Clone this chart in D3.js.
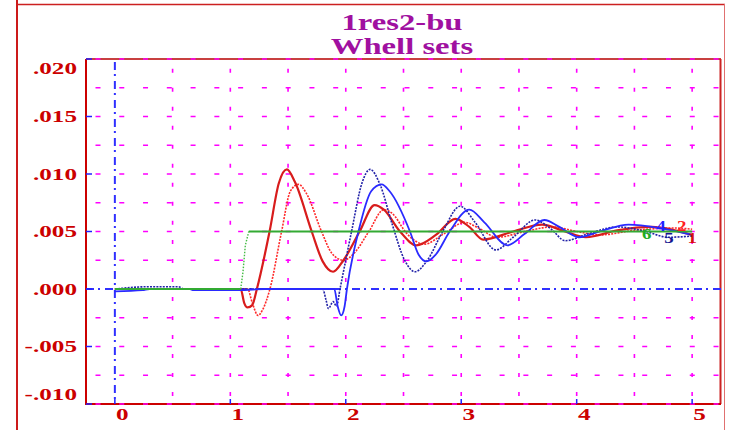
<!DOCTYPE html>
<html>
<head>
<meta charset="utf-8">
<script src="https://cdn.jsdelivr.net/npm/d3@7"></script>
<style>
  html, body { margin: 0; padding: 0; background: #ffffff; }
  svg { display: block; }
  text { font-family: "Liberation Serif", "Times New Roman", serif; font-weight: bold; }
</style>
</head>
<body>
<svg id="chart" width="729" height="430"></svg>
<script>
// ---------------- data ----------------
const titleLines = ["1res2-bu", "Whell sets"];
const xTicks = [0, 1, 2, 3, 4, 5];
const xTickLabels = ["0", "1", "2", "3", "4", "5"];
const yTicks = [-0.010, -0.005, 0, 0.005, 0.010, 0.015, 0.020];
const yTickLabels = ["-.010", "-.005", ".000", ".005", ".010", ".015", ".020"];
const xGrid = [0.5, 1, 1.5, 2, 2.5, 3, 3.5, 4, 4.5, 5];
const yGrid = [-0.010, -0.0075, -0.005, -0.0025, 0.0025, 0.005, 0.0075, 0.010, 0.0125, 0.015, 0.0175, 0.020];

// series 1: red solid
const s1 = [[0,0],[1.09,0],[1.12,-0.0012],[1.15,-0.0016],[1.19,-0.0014],[1.23,0],[1.34,0.005],[1.42,0.0092],[1.49,0.0104],
  [1.56,0.0093],[1.705,0.005],[1.80,0.0024],[1.89,0.0015],[1.98,0.0025],[2.12,0.005],[2.25,0.0073],[2.33,0.0069],[2.47,0.005],
  [2.61,0.0038],[2.78,0.0047],[2.95,0.0061],[3.07,0.0054],[3.19,0.0043],[3.45,0.0050],[3.70,0.0056],[3.90,0.0050],[4.08,0.0045],
  [4.35,0.0051],[4.65,0.0054],[5.0,0.0047]];
// series 2: red dotted
const s2 = [[0,0],[1.15,0],[1.19,-0.0012],[1.24,-0.0023],[1.28,-0.0018],[1.343,0],[1.444,0.005],[1.52,0.0085],[1.59,0.0091],
  [1.66,0.0083],[1.79,0.005],[1.88,0.0031],[1.98,0.0025],[2.08,0.0032],[2.20,0.005],[2.33,0.0069],[2.40,0.0066],[2.53,0.0048],
  [2.68,0.0039],[2.85,0.0048],[3.03,0.0058],[3.15,0.0053],[3.31,0.0045],[3.55,0.0050],[3.79,0.0054],[4.0,0.0050],[4.2,0.0047],
  [4.5,0.0051],[4.85,0.0053],[5.0,0.0052]];
// series 5: dark blue dotted
const s5 = [[0,0],[0.3,0.0002],[0.55,0.0002],[0.6,0],[1.80,0],[1.83,-0.0010],[1.85,-0.0017],[1.89,-0.0011],[1.92,-0.0015],
  [1.95,0],[2.05,0.005],[2.14,0.0092],[2.21,0.0104],[2.30,0.0090],[2.40,0.0057],[2.51,0.0025],[2.60,0.0015],[2.70,0.0024],
  [2.84,0.005],[2.99,0.0072],[3.12,0.0058],[3.30,0.0034],[3.45,0.0045],[3.64,0.0060],[3.78,0.0052],[3.90,0.0042],[4.1,0.0048],
  [4.35,0.0054],[4.6,0.0050],[4.79,0.0045],[5.0,0.0046]];
// series 4: blue solid
const s4 = [[0,-0.0002],[0.24,-0.0001],[0.3,0],[0.65,0],[0.68,-0.0001],[1.08,-0.0001],[1.3,0],[1.90,0],[1.93,-0.0015],
  [1.96,-0.0023],[1.99,-0.0015],[2.01,0],[2.11,0.005],[2.22,0.0085],[2.31,0.0091],[2.38,0.0085],[2.556,0.005],[2.63,0.0030],
  [2.70,0.0024],[2.78,0.0030],[2.90,0.005],[3.07,0.0069],[3.20,0.0058],[3.40,0.0038],[3.55,0.0048],[3.72,0.0060],[3.85,0.0054],
  [4.02,0.0045],[4.2,0.0050],[4.45,0.0056],[4.72,0.0053],[5.0,0.0047]];
// series 6: green step
const s6 = [[0,0],[1.09,0],[1.11,0.0015],[1.13,0.0038],[1.16,0.005],[5.0,0.005]];
const s6Rise = [1.09, 1.16];

const endLabels = ["6", "4", "5", "2", "1"];
const endLabelX = [4.606, 4.73, 4.80, 4.91, 5.0];
const endLabelY = [0.0048, 0.0055, 0.0044, 0.0055, 0.0044];
const endLabelColor = ["#22aa22", "#2020ff", "#151590", "#ff2020", "#d81010"];

// ---------------- layout ----------------
const svg = d3.select("#chart");
const L = 86, R = 721, T = 59, B = 404;
const x = d3.scaleLinear().domain([-0.25, 5.25]).range([L, R]);
const y = d3.scaleLinear().domain([-0.010, 0.020]).range([B, T]);
const STRETCH = 1.48;

// outer frame
svg.append("line").attr("x1", 17).attr("x2", 17).attr("y1", 0).attr("y2", 430).attr("stroke", "#cc1a1a").attr("stroke-width", 2);
svg.append("line").attr("x1", 17).attr("x2", 725).attr("y1", 4.5).attr("y2", 4.5).attr("stroke", "#cc2020").attr("stroke-width", 1.5);
svg.append("line").attr("x1", 724.5).attr("x2", 724.5).attr("y1", 4).attr("y2", 430).attr("stroke", "#e07070").attr("stroke-width", 1);

// title
titleLines.forEach((t, i) => {
  svg.append("text").attr("transform", `translate(402,${30 + i * 24}) scale(1.42,1)`)
    .attr("text-anchor", "middle").attr("font-size", 23).attr("fill", "#a010a0").text(t);
});

// inner frame
svg.append("line").attr("x1", L).attr("x2", R).attr("y1", T).attr("y2", T).attr("stroke", "#c84040").attr("stroke-width", 2);
svg.append("line").attr("x1", 720.5).attr("x2", 720.5).attr("y1", T).attr("y2", B).attr("stroke", "#cc2222").attr("stroke-width", 2);
svg.append("line").attr("x1", L).attr("x2", L).attr("y1", T).attr("y2", B + 1).attr("stroke", "#cc0000").attr("stroke-width", 2);
svg.append("line").attr("x1", L).attr("x2", R).attr("y1", B).attr("y2", B).attr("stroke", "#cc0000").attr("stroke-width", 2);

// grid
const grid = svg.append("g").attr("stroke", "#ff00ff").attr("stroke-width", 1.6);
grid.selectAll(".hg").data(yGrid).join("line")
  .attr("x1", 95.5).attr("x2", R).attr("y1", d => y(d)).attr("y2", d => y(d))
  .attr("stroke-dasharray", "5,18.77");
grid.selectAll(".vg").data(xGrid).join("line")
  .attr("x1", d => x(d)).attr("x2", d => x(d)).attr("y1", 68.7).attr("y2", B)
  .attr("stroke-dasharray", "4,15.02");

// zero axes (dash-dot)
svg.append("line").attr("x1", L).attr("x2", R).attr("y1", y(0)).attr("y2", y(0))
  .attr("stroke", "#3030ff").attr("stroke-width", 2).attr("stroke-dasharray", "8,4,2,5");
svg.append("line").attr("x1", x(0)).attr("x2", x(0)).attr("y1", T + 3).attr("y2", B)
  .attr("stroke", "#3030ff").attr("stroke-width", 2).attr("stroke-dasharray", "8,4,2,5");

// ticks
svg.selectAll(".yt").data(yTicks).join("line")
  .attr("x1", L).attr("x2", L + 6).attr("y1", d => y(d)).attr("y2", d => y(d))
  .attr("stroke", "#2020ff").attr("stroke-width", 1.5);
svg.selectAll(".xt").data(xTicks).join("line")
  .attr("x1", d => x(d)).attr("x2", d => x(d)).attr("y1", B).attr("y2", B - 5)
  .attr("stroke", "#2020ff").attr("stroke-width", 1.5);

// tick labels
yTicks.forEach((v, i) => {
  const cy = Math.max(T + 9.3, Math.min(B - 9.3, y(v)));
  svg.append("text").attr("transform", `translate(77,${cy + 5.7}) scale(${STRETCH},1)`)
    .attr("text-anchor", "end").attr("font-size", 17).attr("fill", "#cc0000").text(yTickLabels[i]);
});
xTicks.forEach((v, i) => {
  svg.append("text").attr("transform", `translate(${x(v) + 7.5},419.5) scale(${STRETCH},1)`)
    .attr("text-anchor", "middle").attr("font-size", 17).attr("fill", "#cc0000").text(xTickLabels[i]);
});

// curves
const lineM = d3.line().x(d => x(d[0])).y(d => y(d[1])).curve(d3.curveMonotoneX);
const lineL = d3.line().x(d => x(d[0])).y(d => y(d[1]));
const curves = svg.append("g").attr("fill", "none").attr("stroke-linejoin", "round");
curves.append("path").attr("d", lineM(s2)).attr("stroke", "#ff2a2a").attr("stroke-width", 1.6).attr("stroke-dasharray", "2,1.2");
curves.append("path").attr("d", lineM(s1)).attr("stroke", "#d81c1c").attr("stroke-width", 2.2);
curves.append("path").attr("d", lineM(s5)).attr("stroke", "#2222a8").attr("stroke-width", 1.6).attr("stroke-dasharray", "2,1.2");
curves.append("path").attr("d", lineM(s4)).attr("stroke", "#2a2aff").attr("stroke-width", 1.8);
// green: flat parts solid, rise dotted
curves.append("path").attr("d", lineL(s6.filter(d => d[0] <= s6Rise[0]))).attr("stroke", "#33aa33").attr("stroke-width", 1.8);
curves.append("path").attr("d", lineL(s6.filter(d => d[0] >= s6Rise[0] && d[0] <= s6Rise[1])))
  .attr("stroke", "#44bb44").attr("stroke-width", 1.4).attr("stroke-dasharray", "1.5,1.5");
curves.append("path").attr("d", lineL(s6.filter(d => d[0] >= s6Rise[1]))).attr("stroke", "#33aa33").attr("stroke-width", 1.8);

// end labels
endLabels.forEach((t, i) => {
  svg.append("text").attr("transform", `translate(${x(endLabelX[i])},${y(endLabelY[i]) + 5}) scale(1.35,1)`)
    .attr("text-anchor", "middle").attr("font-size", 14).attr("fill", endLabelColor[i]).text(t);
});
</script>
</body>
</html>
